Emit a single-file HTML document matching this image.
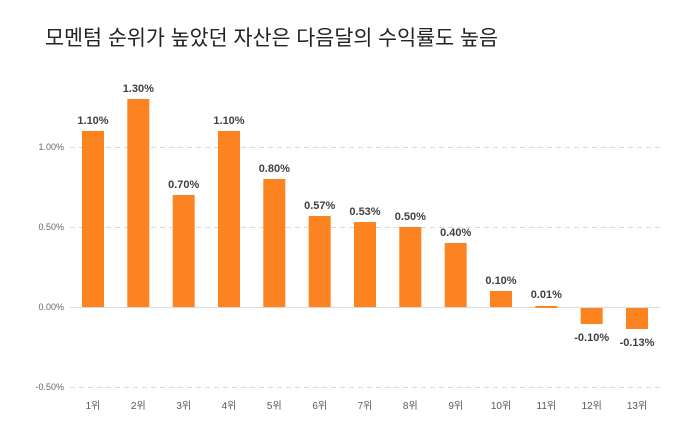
<!DOCTYPE html>
<html><head><meta charset="utf-8"><style>
html,body{margin:0;padding:0;background:#fff;}
svg{display:block;}
.t{font-family:"Liberation Sans","Noto Sans CJK KR",sans-serif;}
</style></head><body>
<svg width="689" height="433" viewBox="0 0 689 433" xmlns="http://www.w3.org/2000/svg">
<text class="t" x="45" y="45" font-size="21" fill="#222" textLength="453" lengthAdjust="spacingAndGlyphs">모멘텀 순위가 높았던 자산은 다음달의 수익률도 높음</text>
<g stroke="#d9d9d9" stroke-width="1" stroke-dasharray="5,4">
<line x1="70" y1="147.5" x2="660" y2="147.5"/>
<line x1="70" y1="227.5" x2="660" y2="227.5"/>
<line x1="70" y1="387.5" x2="660" y2="387.5"/>
</g>
<line x1="70" y1="307.5" x2="660" y2="307.5" stroke="#d9d9d9" stroke-width="1"/>
<g class="t" font-size="9" fill="#666" text-anchor="end">
<text x="64" y="150">1.00%</text>
<text x="64" y="230">0.50%</text>
<text x="64" y="310">0.00%</text>
<text x="64" y="390">-0.50%</text>
</g>
<g fill="#fd8320">
<rect x="82" y="131" width="22" height="176"/>
<rect x="127.3" y="99" width="22" height="208"/>
<rect x="172.7" y="195" width="22" height="112"/>
<rect x="218" y="131" width="22" height="176"/>
<rect x="263.3" y="179" width="22" height="128"/>
<rect x="308.7" y="216" width="22" height="91"/>
<rect x="354" y="222" width="22" height="85"/>
<rect x="399.3" y="227" width="22" height="80"/>
<rect x="444.7" y="243" width="22" height="64"/>
<rect x="490" y="291" width="22" height="16"/>
<rect x="535.3" y="306" width="22" height="2"/>
<rect x="580.7" y="308" width="22" height="16"/>
<rect x="626" y="308" width="22" height="21"/>
</g>
<g class="t" font-size="11" fill="#404040" font-weight="600" text-anchor="middle">
<text x="93" y="124">1.10%</text>
<text x="138.3" y="92">1.30%</text>
<text x="183.7" y="188">0.70%</text>
<text x="229" y="124">1.10%</text>
<text x="274.3" y="172">0.80%</text>
<text x="319.7" y="209">0.57%</text>
<text x="365" y="215">0.53%</text>
<text x="410.3" y="220">0.50%</text>
<text x="455.7" y="236">0.40%</text>
<text x="501" y="284">0.10%</text>
<text x="546.3" y="298">0.01%</text>
<text x="591.7" y="341">-0.10%</text>
<text x="637" y="346">-0.13%</text>
</g>
<g class="t" font-size="10" fill="#595959" text-anchor="middle">
<text x="93" y="409">1위</text>
<text x="138.3" y="409">2위</text>
<text x="183.7" y="409">3위</text>
<text x="229" y="409">4위</text>
<text x="274.3" y="409">5위</text>
<text x="319.7" y="409">6위</text>
<text x="365" y="409">7위</text>
<text x="410.3" y="409">8위</text>
<text x="455.7" y="409">9위</text>
<text x="501" y="409">10위</text>
<text x="546.3" y="409">11위</text>
<text x="591.7" y="409">12위</text>
<text x="637" y="409">13위</text>
</g>
</svg>
</body></html>
